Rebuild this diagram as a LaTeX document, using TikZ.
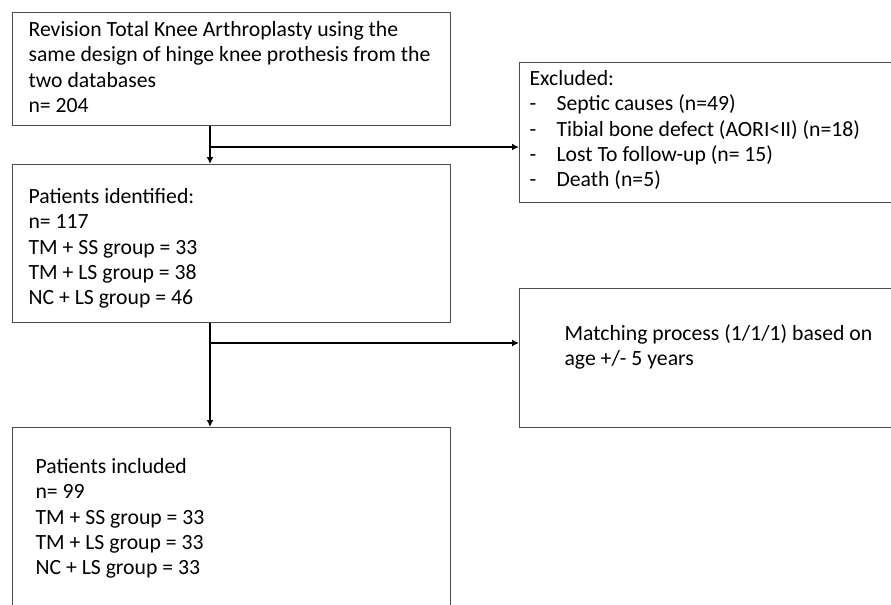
\documentclass[tikz,border=0pt]{standalone}
\usepackage{fontspec}
\setmainfont{Carlito}
\usetikzlibrary{arrows.meta}

\begin{document}
\begin{tikzpicture}[x=0.5pt,y=-0.5pt]

\tikzset{box/.style = {draw=black!70, line width=0.6pt, anchor=north west, align=flush left, inner ysep=0pt, font=\fontsize{10.85}{12.6}\selectfont}}
\tikzset{flow/.style = {-{Latex[length=3.5pt,width=3.5pt]}, line width=1pt}}
\newcommand{\dashitem}[1]{\makebox[13.5pt][l]{-}#1}

\useasboundingbox (0,0) rectangle (891,605);
\clip (0,0) rectangle (891,605);

% boxes
\node[box, text width=203pt, inner xsep=8pt, text height=12pt, text depth=44.5pt] (total) at (12,12)
  {\mbox{Revision Total Knee Arthroplasty using the}\\\mbox{same design of hinge knee prothesis from the}\\two databases\\n= 204};
\node[box, text width=203pt, inner xsep=8pt, text height=19.5pt, text depth=59.5pt] (ident) at (12,164)
  {Patients identified:\\n= 117\\TM + SS group = 33\\TM + LS group = 38\\NC + LS group = 46};
\node[box, text width=196pt, inner xsep=11.5pt, text height=23pt, text depth=80pt] (incl) at (12,427)
  {Patients included\\n= 99\\TM + SS group = 33\\TM + LS group = 33\\NC + LS group = 33};
\node[box, text width=250pt, inner xsep=5pt, text height=11.5pt, text depth=58.5pt] (excl) at (519,62)
  {Excluded:\\\dashitem{Septic causes (n=49)}\\\dashitem{Tibial bone defect (AORI<II) (n=18)}\\\dashitem{Lost To follow-up (n= 15)}\\\dashitem{Death (n=5)}};
\node[box, text width=250pt, inner xsep=22.5pt, text height=26pt, text depth=43.25pt] (match) at (519,288)
  {Matching process (1/1/1) based on\\age +/- 5 years};

% branch points
\coordinate (j1) at (210,147);
\coordinate (j2) at (210,343);

% arrows
\draw[flow] (total.south -| j1) -- (ident.north -| j1);
\draw[flow] (j1) -- (j1 -| excl.west);
\draw[flow] (ident.south -| j2) -- (incl.north -| j2);
\draw[flow] (j2) -- (j2 -| match.west);

\end{tikzpicture}
\end{document}
